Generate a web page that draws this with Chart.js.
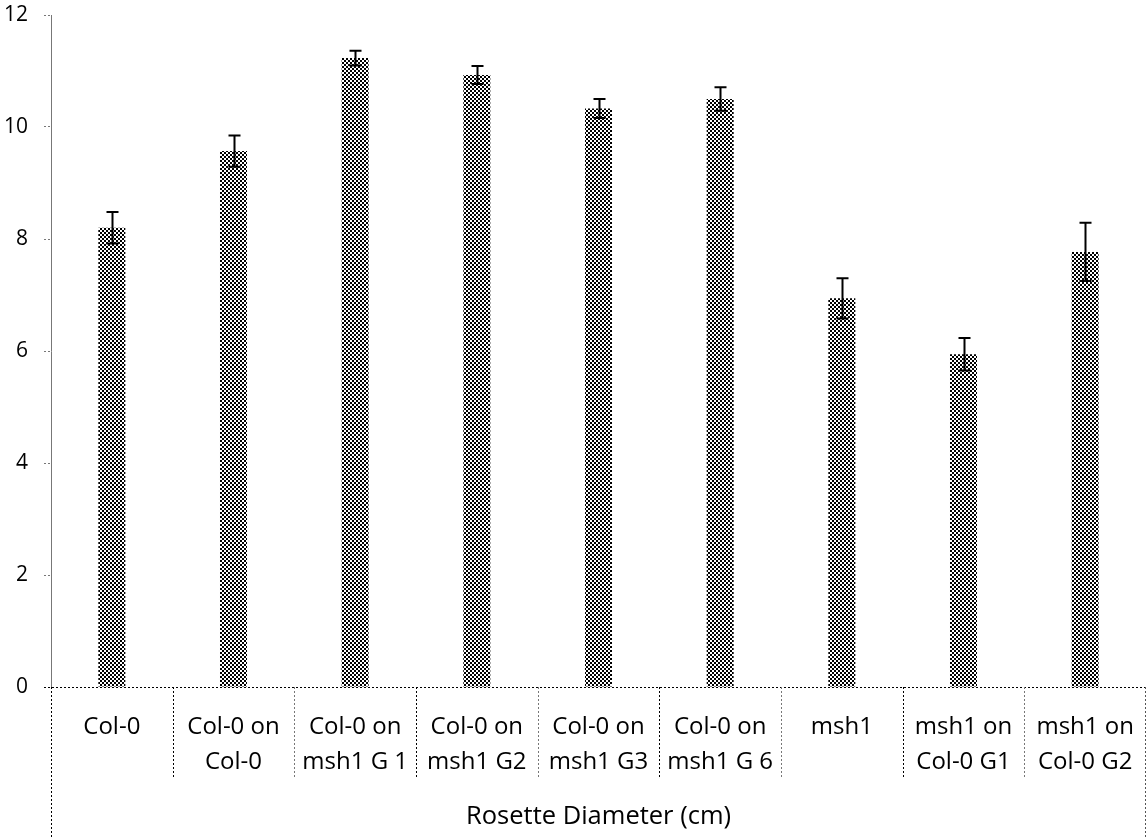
<!DOCTYPE html>
<html>
<head>
<meta charset="utf-8">
<script src="https://cdn.jsdelivr.net/npm/chart.js@4.4.1/dist/chart.umd.min.js"></script>
<style>
  html, body { margin: 0; padding: 0; background: #fff; }
  #wrap { width: 1147px; height: 837px; position: relative; }
</style>
</head>
<body>
<div id="wrap"><canvas id="c"></canvas></div>
<script>
// Rosette diameter (cm) per graft combination
const categories = [
  ["Col-0"],
  ["Col-0 on", "Col-0"],
  ["Col-0 on", "msh1 G 1"],
  ["Col-0 on", "msh1 G2"],
  ["Col-0 on", "msh1 G3"],
  ["Col-0 on", "msh1 G 6"],
  ["msh1"],
  ["msh1 on", "Col-0 G1"],
  ["msh1 on", "Col-0 G2"]
];
const means  = [8.2, 9.57, 11.23, 10.93, 10.33, 10.5, 6.94, 5.94, 7.77];
const errors = [0.28, 0.28, 0.13, 0.16, 0.17, 0.21, 0.36, 0.29, 0.52];
const groupLabel = "Rosette Diameter (cm)";
const yTicks = [0, 2, 4, 6, 8, 10, 12];

const FONT = "'Open Sans', sans-serif";

// checkerboard fill for the bars
function checkerPattern(ctx) {
  const p = document.createElement('canvas');
  p.width = 4; p.height = 4;
  const g = p.getContext('2d');
  g.fillStyle = '#fff'; g.fillRect(0, 0, 4, 4);
  g.fillStyle = '#000';
  g.fillRect(0, 0, 2, 2);
  g.fillRect(2, 2, 2, 2);
  return ctx.createPattern(p, 'repeat');
}

function dotted(ctx, x1, y1, x2, y2, color) {
  ctx.save();
  ctx.strokeStyle = color;
  ctx.lineWidth = 1;
  ctx.setLineDash([2, 2]);
  ctx.beginPath();
  ctx.moveTo(x1, y1);
  ctx.lineTo(x2, y2);
  ctx.stroke();
  ctx.restore();
}

// error bars on top of each bar
const errorBars = {
  id: 'errorBars',
  afterDatasetsDraw(chart) {
    const { ctx, scales: { x, y } } = chart;
    ctx.save();
    ctx.strokeStyle = '#000';
    ctx.lineWidth = 2;
    means.forEach((m, i) => {
      const cx = Math.round(x.getPixelForValue(i)) + 0.5;
      const yt = y.getPixelForValue(m + errors[i]);
      const yb = y.getPixelForValue(m - errors[i]);
      ctx.beginPath();
      ctx.moveTo(cx, yt); ctx.lineTo(cx, yb);
      ctx.moveTo(cx - 6, yt); ctx.lineTo(cx + 6, yt);
      ctx.moveTo(cx - 6, yb); ctx.lineTo(cx + 6, yb);
      ctx.stroke();
    });
    ctx.restore();
  }
};

// category axis drawn as a table: dotted separators, two-line labels, group title
const categoryTable = {
  id: 'categoryTable',
  afterDraw(chart) {
    const { ctx, chartArea: a, scales: { x } } = chart;
    const H = chart.height;
    const base = a.bottom;
    const half = (x.getPixelForValue(1) - x.getPixelForValue(0)) / 2;
    const rowEnd = base + 91;

    // x axis line
    dotted(ctx, a.left - 7, base + 0.5, a.right, base + 0.5, '#000');
    // outer borders of the table
    dotted(ctx, a.left + 0.5, base, a.left + 0.5, H, '#000');
    dotted(ctx, a.right - 0.5, base, a.right - 0.5, H, '#555');
    // inner separators between categories
    for (let i = 1; i < categories.length; i++) {
      const sx = Math.round(x.getPixelForValue(i) - half) + 0.5;
      dotted(ctx, sx, base, sx, rowEnd, i % 2 ? '#000' : '#777');
    }

    ctx.save();
    ctx.fillStyle = '#000';
    ctx.textAlign = 'center';
    ctx.textBaseline = 'middle';
    ctx.font = `24px ${FONT}`;
    categories.forEach((lines, i) => {
      const cx = x.getPixelForValue(i);
      lines.forEach((t, k) => ctx.fillText(t, cx, base + 40 + k * 35));
    });
    ctx.font = `25.5px ${FONT}`;
    ctx.fillText(groupLabel, (a.left + a.right) / 2, base + 130);
    ctx.restore();
  }
};

const ctx = document.getElementById('c').getContext('2d');
new Chart(ctx, {
  type: 'bar',
  data: {
    labels: categories,
    datasets: [{
      data: means,
      backgroundColor: checkerPattern(ctx),
      borderWidth: 0,
      barPercentage: 0.222,
      categoryPercentage: 1.0
    }]
  },
  options: {
    responsive: true,
    maintainAspectRatio: false,
    animation: false,
    layout: { padding: { top: 15, right: 1, bottom: 150, left: 0 } },
    plugins: { legend: { display: false }, tooltip: { enabled: false } },
    scales: {
      x: {
        type: 'category',
        offset: true,
        display: false
      },
      y: {
        min: 0,
        max: 12,
        afterBuildTicks(scale) { scale.ticks = yTicks.map(v => ({ value: v })); },
        afterFit(scale) {
          scale.width = 51;
          scale.paddingTop = 0;
          scale.paddingBottom = 0;
        },
        grid: {
          drawOnChartArea: false,
          drawTicks: true,
          tickLength: 7,
          tickColor: '#777',
          tickBorderDash: [2, 2],
          tickWidth: 1
        },
        border: { display: true, color: '#777', dash: [2, 2], width: 1 },
        ticks: {
          padding: 16,
          color: '#000',
          font: { family: FONT, size: 21 }
        }
      }
    }
  },
  plugins: [errorBars, categoryTable]
});
</script>
</body>
</html>
